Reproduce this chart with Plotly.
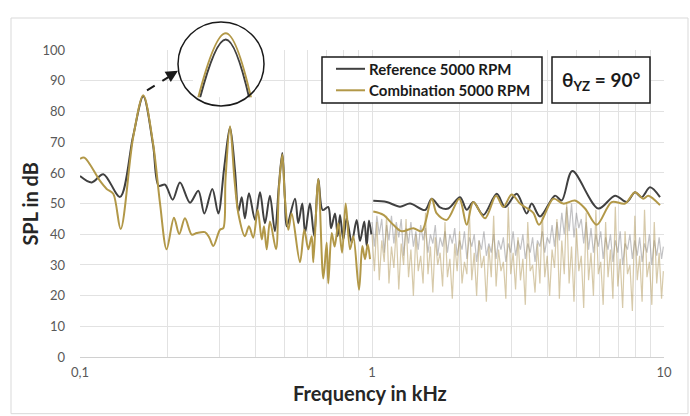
import plotly.graph_objects as go

# ---------------- data (kHz, dB) ----------------
ref_low_f = [0.100, 0.1097, 0.1202, 0.1371, 0.152, 0.1647, 0.178, 0.186, 0.1955, 0.2077, 0.2200,
             0.2381, 0.2542, 0.2666, 0.2839, 0.2976, 0.312, 0.3264, 0.340, 0.3485, 0.358, 0.367,
             0.379, 0.3975, 0.4135, 0.430, 0.447, 0.465, 0.480, 0.493, 0.503, 0.5105, 0.545,
             0.559, 0.577, 0.590, 0.613, 0.634, 0.655, 0.678, 0.708, 0.724, 0.747, 0.763, 0.777,
             0.7975, 0.819, 0.852, 0.886, 0.910, 0.941, 0.959, 0.9765, 0.995]
ref_low_db = [59.0, 56.9, 59.6, 52.2, 72.0, 85.0, 69.0, 55.8, 56.2, 51.3, 56.9,
              50.3, 54.2, 46.8, 54.8, 46.8, 62.0, 74.9, 60.0, 47.4, 52.1, 45.2,
              53.4, 44.7, 53.7, 43.6, 52.6, 41.0, 56.0, 66.5, 52.0, 42.6, 51.6,
              43.6, 50.0, 40.4, 50.0, 39.4, 58.0, 47.9, 48.9, 42.0, 46.8, 39.4, 46.3,
              38.3, 45.2, 37.3, 44.7, 37.8, 44.2, 36.2, 44.5, 40.0]

ref_high_f = [1.010, 1.123, 1.247, 1.350, 1.519, 1.602, 1.710, 1.825, 2.002, 2.110, 2.223,
              2.406, 2.674, 2.855, 3.130, 3.387, 3.523, 3.761, 4.234, 4.464, 4.853, 5.957,
              6.797, 7.454, 7.957, 8.388, 8.954, 9.690]
ref_high_db = [50.9, 50.5, 49.0, 50.0, 47.9, 51.6, 48.8, 48.4, 52.1, 48.0, 50.5,
               46.3, 53.2, 48.9, 53.2, 46.8, 50.0, 45.8, 52.6, 51.0, 60.6, 48.4,
               52.6, 50.5, 53.7, 52.1, 55.3, 52.1]

comb_low_f = [0.100, 0.1035, 0.1171, 0.1234, 0.130, 0.1378, 0.152, 0.1647, 0.178, 0.188, 0.198,
              0.2098, 0.2187, 0.2288, 0.2414, 0.2510, 0.2678, 0.2773, 0.2862, 0.3016, 0.3095,
              0.315, 0.3264, 0.338, 0.3485, 0.367, 0.379, 0.392, 0.4061, 0.4192, 0.4267,
              0.4359, 0.4474, 0.4691, 0.480, 0.493, 0.503, 0.517, 0.5309, 0.5667, 0.5865,
              0.6051, 0.6216, 0.6295, 0.6548, 0.6811, 0.6995, 0.7084, 0.7278, 0.745, 0.7667,
              0.790, 0.8126, 0.8409, 0.8630, 0.9027, 0.9265, 0.9463, 0.9667, 0.9844]
comb_low_db = [64.6, 65.0, 57.4, 54.8, 53.2, 41.7, 71.5, 85.3, 69.5, 50.0, 35.1,
               45.4, 40.1, 45.2, 39.9, 40.4, 40.7, 38.9, 36.2, 41.5, 42.0,
               58.0, 75.2, 58.0, 46.8, 39.4, 42.6, 38.9, 47.9, 38.3, 42.6,
               35.1, 44.2, 35.1, 55.0, 66.0, 52.0, 41.5, 46.8, 30.9, 41.5,
               35.1, 39.4, 30.9, 58.0, 25.6, 37.3, 24.0, 40.4, 36.0, 43.6,
               34.0, 50.0, 35.1, 39.4, 21.9, 36.2, 31.9, 36.7, 31.9]

comb_high_f = [1.010, 1.094, 1.183, 1.264, 1.385, 1.480, 1.602, 1.666, 1.803, 1.991, 2.110,
               2.223, 2.438, 2.659, 2.817, 3.009, 3.212, 3.342, 3.568, 3.732, 4.178, 4.520,
               4.957, 5.364, 5.883, 6.621, 7.353, 7.957, 8.495, 8.836, 9.690]
comb_high_db = [47.4, 46.3, 43.1, 41.0, 42.0, 41.0, 51.6, 46.8, 44.7, 51.6, 43.1,
                50.5, 45.2, 52.6, 48.9, 53.0, 50.0, 48.9, 47.0, 43.1, 51.6, 50.0,
                51.0, 48.4, 43.1, 50.5, 50.0, 53.7, 51.6, 52.6, 49.5]

# raw (unsmoothed) spectra above 1 kHz, shown faded
raw_f = [1.000, 1.019, 1.039, 1.059, 1.080, 1.101, 1.122, 1.143, 1.166, 1.188,
         1.211, 1.235, 1.259, 1.283, 1.308, 1.334, 1.359, 1.386, 1.413, 1.440,
         1.468, 1.496, 1.525, 1.555, 1.585, 1.616, 1.647, 1.679, 1.711, 1.745,
         1.778, 1.813, 1.848, 1.884, 1.920, 1.957, 1.995, 2.034, 2.073, 2.113,
         2.154, 2.196, 2.239, 2.282, 2.326, 2.371, 2.417, 2.464, 2.512, 2.561,
         2.610, 2.661, 2.712, 2.765, 2.818, 2.873, 2.929, 2.985, 3.043, 3.102,
         3.162, 3.224, 3.286, 3.350, 3.415, 3.481, 3.548, 3.617, 3.687, 3.758,
         3.831, 3.905, 3.981, 4.058, 4.137, 4.217, 4.299, 4.382, 4.467, 4.554,
         4.642, 4.732, 4.824, 4.917, 5.012, 5.109, 5.208, 5.309, 5.412, 5.517,
         5.623, 5.732, 5.843, 5.957, 6.072, 6.190, 6.310, 6.432, 6.556, 6.683,
         6.813, 6.945, 7.079, 7.217, 7.356, 7.499, 7.644, 7.792, 7.943, 8.097,
         8.254, 8.414, 8.577, 8.743, 8.913, 9.085, 9.261, 9.441, 9.624, 9.810, 9.950]
ref_raw_db = [44, 36, 46, 40, 45, 34, 43, 38, 46, 37,
              44, 39, 45, 33, 42, 37, 44, 36, 41, 35,
              43, 38, 42, 34, 40, 37, 43, 33, 39, 36,
              41, 34, 40, 37, 42, 33, 38, 35, 41, 32,
              39, 36, 40, 31, 38, 35, 41, 33, 37, 34,
              40, 32, 38, 35, 39, 31, 37, 34, 41, 33,
              38, 35, 40, 32, 37, 34, 39, 31, 38, 36,
              41, 34, 39, 37, 43, 36, 44, 38, 47, 40,
              49, 41, 50, 39, 47, 42, 45, 37, 44, 35,
              42, 34, 40, 36, 41, 32, 39, 35, 40, 31,
              38, 34, 41, 30, 37, 35, 40, 32, 38, 33,
              39, 31, 37, 34, 40, 30, 38, 33, 39, 32, 36]
comb_raw_db = [40, 28, 44, 25, 38, 31, 46, 24, 36, 29,
               42, 22, 37, 30, 45, 26, 35, 20, 40, 28,
               33, 24, 47, 27, 36, 21, 39, 30, 34, 23,
               44, 26, 32, 19, 37, 28, 41, 24, 31, 27,
               48, 25, 34, 20, 38, 29, 33, 18, 36, 26,
               46, 23, 35, 28, 31, 19, 49, 27, 34, 22,
               39, 25, 32, 17, 44, 28, 30, 21, 37, 24,
               47, 26, 33, 20, 35, 29, 45, 19, 38, 27,
               50, 24, 36, 18, 42, 28, 33, 16, 47, 25,
               34, 20, 48, 27, 31, 17, 44, 26, 35, 19,
               49, 23, 32, 16, 41, 27, 30, 15, 46, 25,
               33, 18, 48, 26, 31, 17, 44, 24, 34, 19, 28]

series_names = ["Reference 5000 RPM", "Combination 5000 RPM"]
x_tickvals = [0.1, 1, 10]
x_ticktext = ["0,1", "1", "10"]
x_minor = [0.2, 0.3, 0.4, 0.5, 0.6, 0.7, 0.8, 0.9, 2, 3, 4, 5, 6, 7, 8, 9]

# ---------------- layout helpers (pixel -> paper) ----------------
W, H = 690, 416
L, R, T, B = 80, 26, 10, 59
PW, PH = W - L - R, H - T - B
def px(x):
    return (x - L) / PW
def py(y):
    return (H - B - y) / PH

FONT = "Lato"
DARK = "rgb(64,64,64)"
GOLD = "rgb(178,152,72)"
INK = "#1a1a1a"

fig = go.Figure()

fig.add_trace(go.Scatter(x=raw_f, y=ref_raw_db, mode="lines", showlegend=False,
                         line=dict(color="rgba(120,120,125,0.45)", width=1.2), hoverinfo="skip"))
fig.add_trace(go.Scatter(x=raw_f, y=comb_raw_db, mode="lines", showlegend=False,
                         line=dict(color="rgba(175,150,85,0.5)", width=1.2), hoverinfo="skip"))

fig.add_trace(go.Scatter(x=ref_low_f + [None] + ref_high_f, y=ref_low_db + [None] + ref_high_db,
                         mode="lines", name=series_names[0], showlegend=False,
                         line=dict(color=DARK, width=2, shape="spline", smoothing=0.9)))
fig.add_trace(go.Scatter(x=comb_low_f + [None] + comb_high_f, y=comb_low_db + [None] + comb_high_db,
                         mode="lines", name=series_names[1], showlegend=False,
                         line=dict(color=GOLD, width=2, shape="spline", smoothing=0.9)))

# inset (zoom of the first peak)
fig.add_trace(go.Scatter(x=ref_low_f, y=ref_low_db, mode="lines", showlegend=False,
                         xaxis="x2", yaxis="y2",
                         line=dict(color=DARK, width=2, shape="spline", smoothing=0.9)))
fig.add_trace(go.Scatter(x=comb_low_f, y=comb_low_db, mode="lines", showlegend=False,
                         xaxis="x2", yaxis="y2",
                         line=dict(color=GOLD, width=2, shape="spline", smoothing=0.9)))

grid = "#e2e2e2"
fig.update_layout(
    width=W, height=H, margin=dict(l=L, r=R, t=T, b=B),
    paper_bgcolor="white", plot_bgcolor="white",
    font=dict(family=FONT, color="#595959", size=13),
    showlegend=False,
    xaxis=dict(type="log", range=[-1, 1], tickvals=x_tickvals, ticktext=x_ticktext,
               showgrid=True, gridcolor=grid, gridwidth=1, zeroline=False,
               showline=True, linecolor="#d0d0d0", linewidth=1, ticks="",
               ticklabelstandoff=3, tickfont=dict(size=13, color="#595959"),
               minor=dict(tickvals=x_minor, showgrid=True, gridcolor=grid, gridwidth=1, ticks=""),
               anchor="y"),
    yaxis=dict(range=[0, 100], dtick=10, domain=[0, py(43)], showgrid=True, gridcolor=grid,
               zeroline=False, showline=False, ticks="", ticklabelstandoff=14,
               tickfont=dict(size=13, color="#595959"), anchor="x"),
    xaxis2=dict(type="log", range=[-0.7985, -0.7670], domain=[px(193), px(261)],
                visible=False, anchor="y2"),
    yaxis2=dict(range=[82.3, 85.6], domain=[py(91), py(19)], visible=False, anchor="x2"),
)

shapes = [
    # outer chart border
    dict(type="rect", xref="paper", yref="paper", x0=px(11), x1=px(688), y0=py(415), y1=py(10),
         line=dict(color="#d9d9d9", width=1), layer="below"),
    # inset circle
    dict(type="circle", xref="paper", yref="paper", x0=px(178), x1=px(264), y0=py(100), y1=py(14),
         line=dict(color=INK, width=1.5)),
    # dashed pointer
    dict(type="line", xref="paper", yref="paper", x0=px(147), y0=py(84), x1=px(171), y1=py(69),
         line=dict(color=INK, width=2, dash="dash")),
    # legend box
    dict(type="rect", xref="paper", yref="paper", x0=px(322), x1=px(542), y0=py(97), y1=py(50),
         line=dict(color=INK, width=1.5), fillcolor="white"),
    dict(type="line", xref="paper", yref="paper", x0=px(336), x1=px(365), y0=py(62), y1=py(62),
         line=dict(color=DARK, width=2)),
    dict(type="line", xref="paper", yref="paper", x0=px(336), x1=px(365), y0=py(84), y1=py(84),
         line=dict(color=GOLD, width=2)),
    # theta box
    dict(type="rect", xref="paper", yref="paper", x0=px(552), x1=px(650), y0=py(97), y1=py(50),
         line=dict(color=INK, width=1.5), fillcolor="white"),
]
fig.update_layout(shapes=shapes)

fig.add_annotation(xref="paper", yref="paper", x=px(178), y=py(64), ax=-10, ay=6,
                   axref="pixel", ayref="pixel", text="", showarrow=True, arrowhead=2,
                   arrowsize=1.2, arrowwidth=2, arrowcolor=INK)
for yy, name in zip([62, 84], series_names):
    fig.add_annotation(xref="paper", yref="paper", x=px(367), y=py(yy), text=f"<b>{name}</b>",
                       xanchor="left", yanchor="middle", showarrow=False,
                       font=dict(family=FONT, size=15, color=INK))
fig.add_annotation(xref="paper", yref="paper", x=px(601), y=py(74), text="<b>θ<sub>YZ</sub> = 90°</b>",
                   xanchor="center", yanchor="middle",
                   showarrow=False, font=dict(family=FONT, size=19, color=INK))
fig.add_annotation(xref="paper", yref="paper", x=px(370), y=py(394), text="<b>Frequency in kHz</b>",
                   xanchor="center", yanchor="middle",
                   showarrow=False, font=dict(family=FONT, size=20, color="#262626"))
fig.add_annotation(xref="paper", yref="paper", x=px(30), y=py(200), text="<b>SPL in dB</b>",
                   xanchor="center", yanchor="middle",
                   showarrow=False, textangle=-90, font=dict(family=FONT, size=20, color="#262626"))

fig.write_html("out.html")
